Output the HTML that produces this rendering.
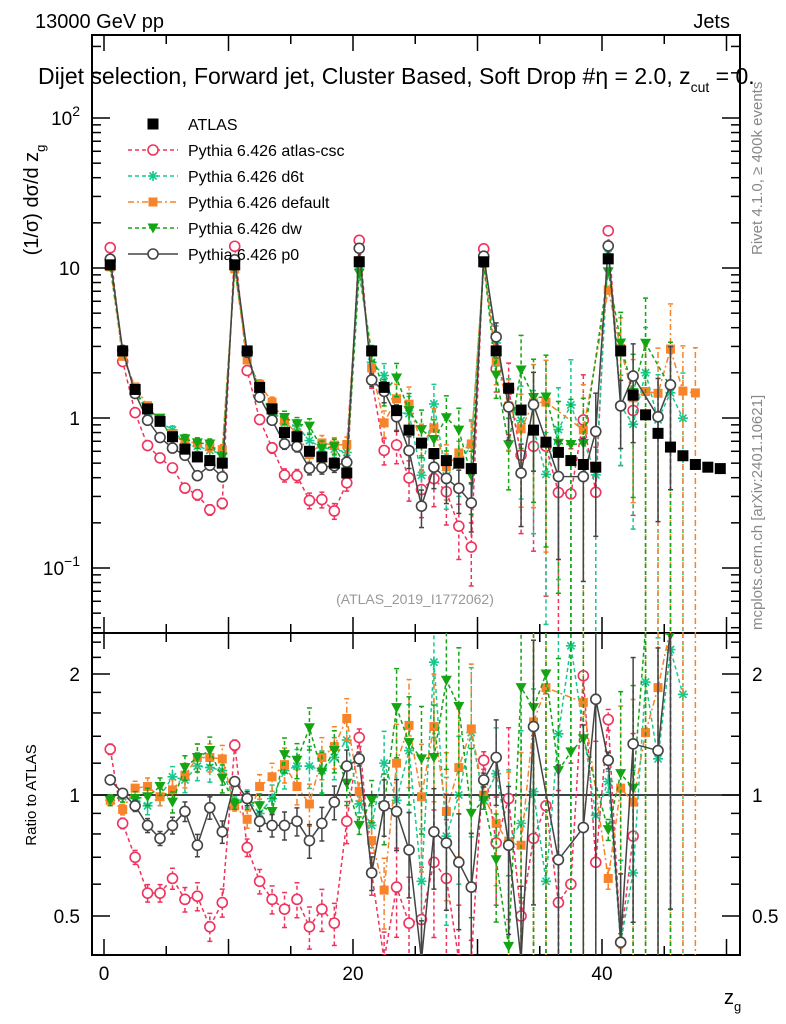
<!DOCTYPE html>
<html><head><meta charset="utf-8">
<style>
html,body{margin:0;padding:0;background:#fff;width:786px;height:1024px;overflow:hidden;}
svg{display:block;font-family:"Liberation Sans",sans-serif;}
</style></head>
<body>
<svg id="chart" width="786" height="1024" viewBox="0 0 786 1024">
<defs>
<clipPath id="clipMain"><rect x="92" y="35" width="648" height="598"/></clipPath>
<clipPath id="clipRatio"><rect x="92" y="633" width="648" height="322"/></clipPath>
</defs>
<text x="35" y="28" font-size="20">13000 GeV pp</text>
<text x="730" y="28" font-size="20" text-anchor="end">Jets</text>
<text x="38" y="84" font-size="23">Dijet selection, Forward jet, Cluster Based, Soft Drop #η = 2.0, z<tspan font-size="14" dy="8">cut</tspan><tspan dy="-8"> = 0.</tspan></text>
<text transform="translate(762,255) rotate(-90)" font-size="15" fill="#888">Rivet 4.1.0, ≥ 400k events</text>
<text transform="translate(762,630) rotate(-90)" font-size="15" fill="#888">mcplots.cern.ch [arXiv:2401.10621]</text>
<text transform="translate(38,200) rotate(-90)" font-size="20" text-anchor="middle">(1/σ) dσ/d z<tspan font-size="13" dy="7">g</tspan></text>
<text transform="translate(36,795) rotate(-90)" font-size="15" text-anchor="middle">Ratio to ATLAS</text>
<text x="415" y="604" font-size="14" fill="#999" text-anchor="middle">(ATLAS_2019_I1772062)</text>
<text x="724" y="1004" font-size="20">z<tspan font-size="13" dy="7">g</tspan></text>
<g id="axes"></g>
<g id="series-main" clip-path="url(#clipMain)"></g>
<g id="series-ratio" clip-path="url(#clipRatio)"></g>
<g id="legend"></g>
</svg>
<script>
const bins = [0.5,1.5,2.5,3.5,4.5,5.5,6.5,7.5,8.5,9.5,10.5,11.5,12.5,13.5,14.5,15.5,16.5,17.5,18.5,19.5,20.5,21.5,22.5,23.5,24.5,25.5,26.5,27.5,28.5,29.5,30.5,31.5,32.5,33.5,34.5,35.5,36.5,37.5,38.5,39.5,40.5,41.5,42.5,43.5,44.5,45.5,46.5,47.5,48.5,49.5];
const atlasValues = [10.5,2.8,1.55,1.15,0.95,0.75,0.62,0.55,0.52,0.5, 10.5,2.8,1.6,1.15,0.8,0.75,0.6,0.55,0.5,0.43, 11,2.8,1.6,1.12,0.83,0.68,0.58,0.52,0.5,0.46, 11,2.8,1.58,1.13,0.83,0.69,0.59,0.52,0.49,0.47, 11.5,2.8,1.42,1.05,0.79,0.64,0.56,0.49,0.47,0.46];
const ratioCsc = [1.30,0.85,0.70,0.57,0.57,0.62,0.55,0.56,0.47,0.54, 1.33,0.74,0.61,0.55,0.52,0.55,0.47,0.52,0.48,0.86, 1.39,0.64,0.38,0.59,0.48,0.49,0.68,0.62,0.38,0.30, 1.22,0.76,0.98,0.50,0.78,0.94,0.54,0.60,1.98,0.68, 1.54,0.43,0.79,null,null,null,null,null,null,null];
const ratioD6t = [0.97,0.99,0.98,0.94,0.99,1.11,1.09,1.18,1.17,1.15, 0.96,0.98,0.90,0.98,1.15,1.18,1.18,1.15,1.24,1.37, 0.95,0.84,1.20,0.97,1.29,0.61,2.14,0.79,1.00,1.43, 0.97,1.13,0.77,0.85,1.02,0.61,1.42,2.35,null,0.89, 1.08,0.43,0.64,1.91,1.23,2.3,1.78,null,null,null];
const ratioDefault = [0.97,0.92,1.04,1.05,0.99,1.03,1.12,1.24,1.24,1.23, 0.94,0.87,1.05,1.11,1.19,1.05,0.95,1.24,1.32,1.55, 1.02,0.77,0.58,1.20,1.49,0.99,1.48,0.91,1.17,1.46, 1.00,0.85,0.76,0.75,1.52,1.85,null,null,1.70,null, 0.62,1.04,0.96,1.43,1.85,4.5,2.7,3.0,null,null];
const ratioDw = [0.97,0.99,0.98,0.99,1.05,0.96,1.17,1.24,1.29,1.10, 0.95,0.97,0.94,0.91,1.26,1.22,1.47,1.14,1.29,1.07, 0.84,0.97,0.94,1.65,1.35,1.23,1.24,1.93,1.66,0.90, 0.97,0.69,0.42,1.85,1.65,2.00,1.15,1.28,1.38,null, 0.82,1.13,1.04,3.0,null,2.5,null,null,null,null];
const ratioP0 = [1.09,1.01,0.94,0.84,0.78,0.84,0.91,0.75,0.93,0.81, 1.08,0.98,0.86,0.84,0.84,0.86,0.77,0.85,0.96,1.18, 1.23,0.64,0.94,0.91,0.73,0.38,0.81,0.76,0.68,0.59, 1.09,1.24,0.75,0.38,1.48,null,0.69,null,0.83,1.73, 1.22,0.43,1.34,null,1.29,2.6,null,null,null,null];
const mcRelErr = [0.03,0.03,0.04,0.05,0.05,0.06,0.07,0.08,0.08,0.08, 0.03,0.05,0.07,0.08,0.1,0.1,0.12,0.12,0.12,0.12, 0.05,0.12,0.2,0.25,0.3,0.35,0.35,0.4,0.4,0.45, 0.05,0.3,0.5,0.7,0.8,0.9,0.9,1,1,1, 0.06,0.6,0.8,1,1,1,1,1,1,1];
const xTicks = [0,20,40];
const mainTickLabels = [["10","2"],["10",""],["1",""],["10","−1"]];
const mainTickValues = [100,10,1,0.1];
const ratioTickValues = [2,1,0.5];
const ratioTickLabels = ["2","1","0.5"];

const NS="http://www.w3.org/2000/svg";
const cl=(y,a,b)=>Math.max(a,Math.min(b,y));
const X=v=>104+12.45*v;
const Y=v=>cl(418-150*Math.log10(v),30,638);
const R=r=>cl(795-121*Math.log2(r),628,960);
function mk(tag,attrs,parent){const e=document.createElementNS(NS,tag);for(const k in attrs)e.setAttribute(k,attrs[k]);parent.appendChild(e);return e;}
const axes=document.getElementById('axes');
const gm=document.getElementById('series-main');
const gr=document.getElementById('series-ratio');
const lg=document.getElementById('legend');

let f1=mk('rect',{x:92,y:35,width:648,height:598,fill:'none',stroke:'#000','stroke-width':2},axes);


let f2=mk('rect',{x:92,y:633,width:648,height:322,fill:'none',stroke:'#000','stroke-width':2},axes);


for(let v=0;v<=50;v+=5){
  const len=v%10===0?16:9;
  [[35,1],[633,-1],[633,1],[955,-1]].forEach(([y0,d])=>{
    mk('line',{x1:X(v),x2:X(v),y1:y0,y2:y0+d*len,stroke:'#000','stroke-width':1.5},axes);
  });
}
xTicks.forEach(v=>{
  const t=mk('text',{x:X(v),y:980,'font-size':19,'text-anchor':'middle'},axes);
  t.textContent=v;
  
  
});
for(let e=-2;e<=2;e++){for(let m=1;m<10;m++){const v=m*Math.pow(10,e);const y=418-150*Math.log10(v);if(y<35||y>633)continue;
  const len=m===1?18:9;
  mk('line',{x1:92,x2:92+len,y1:y,y2:y,stroke:'#000','stroke-width':1.5},axes);
  mk('line',{x1:740,x2:740-len,y1:y,y2:y,stroke:'#000','stroke-width':1.5},axes);}}
mainTickValues.forEach((v,i)=>{
  const t=mk('text',{x:80,y:Y(v)+7,'font-size':19,'text-anchor':'end'},axes);
  t.textContent=mainTickLabels[i][0];
  if(mainTickLabels[i][1]){const s=mk('tspan',{dy:-9,'font-size':14},t);s.textContent=mainTickLabels[i][1];}
  
  
});
[0.5,0.6,0.7,0.8,0.9,1,1.2,1.4,1.6,1.8,2,2.2,2.4].forEach(r=>{
  const y=R(r);const major=(r===0.5||r===1||r===2);const len=major?18:9;
  mk('line',{x1:92,x2:92+len,y1:y,y2:y,stroke:'#000','stroke-width':1.5},axes);
  mk('line',{x1:740,x2:740-len,y1:y,y2:y,stroke:'#000','stroke-width':1.5},axes);
});
ratioTickValues.forEach((r,i)=>{
  const t=mk('text',{x:80,y:R(r)+7,'font-size':19,'text-anchor':'end'},axes);
  t.textContent=ratioTickLabels[i];
  
  
  const t2=mk('text',{x:752,y:R(r)+7,'font-size':19},axes);
  t2.textContent=ratioTickLabels[i];
  
  
});
let one=mk('line',{x1:92,x2:740,y1:R(1),y2:R(1),stroke:'#000','stroke-width':1.5},gr);



function marker(g,type,x,y,color){
  let e;
  if(type==='circle'){e=mk('circle',{cx:x,cy:y,r:5,fill:'#fff',stroke:color,'stroke-width':1.6},g);}
  else if(type==='square'){e=mk('rect',{x:x-4.5,y:y-4.5,width:9,height:9,fill:color},g);}
  else if(type==='bigsquare'){e=mk('rect',{x:x-5.5,y:y-5.5,width:11,height:11,fill:color},g);}
  else if(type==='tri'){e=mk('path',{d:`M${x-5.5},${y-4.5}L${x+5.5},${y-4.5}L${x},${y+5.5}Z`,fill:color},g);}
  else if(type==='star'){e=mk('path',{d:`M${x-5},${y}L${x+5},${y}M${x},${y-5}L${x},${y+5}M${x-3.6},${y-3.6}L${x+3.6},${y+3.6}M${x-3.6},${y+3.6}L${x+3.6},${y-3.6}`,stroke:color,'stroke-width':1.6,fill:'none'},g);}
  return e;
}
const series=[
  {name:'Pythia 6.426 atlas-csc',key:'atlas-csc',ratios:ratioCsc,color:'#f0325c',dash:'4,3',mark:'circle'},
  {name:'Pythia 6.426 d6t',key:'d6t',ratios:ratioD6t,color:'#17c88e',dash:'4,3',mark:'star'},
  {name:'Pythia 6.426 default',key:'default',ratios:ratioDefault,color:'#f7832a',dash:'6,3,2,3',mark:'square'},
  {name:'Pythia 6.426 dw',key:'dw',ratios:ratioDw,color:'#13a513',dash:'4,3',mark:'tri'},
  {name:'Pythia 6.426 p0',key:'p0',ratios:ratioP0,color:'#444',dash:'',mark:'circle'}
];
series.forEach(s=>{
  const gM=mk('g',{},gm);
  
  
  const gR=mk('g',{},gr);
  
  
  let pm=[],pr=[];
  bins.forEach((b,i)=>{
    const r=s.ratios[i];if(r==null)return;
    const v=r*atlasValues[i];const err=mcRelErr[i]*(s.key==='p0'?0.8:1);
    const x=X(b);
    pm.push(`${x},${Y(v)}`);pr.push(`${x},${R(r)}`);
    const lo=Math.max(v*(1-err),1e-4),hi=v*(1+err);
    const rlo=Math.max(r*(1-err),1e-3),rhi=r*(1+err);
    [[gM,Y(lo),Y(hi)],[gR,R(rlo),R(rhi)]].forEach(([g,y1,y2])=>{
      mk('line',{x1:x,x2:x,y1:y1,y2:y2,stroke:s.color,'stroke-width':1.5,'stroke-dasharray':s.dash},g);
      mk('line',{x1:x-2.5,x2:x+2.5,y1:y1,y2:y1,stroke:s.color,'stroke-width':1.5},g);
      mk('line',{x1:x-2.5,x2:x+2.5,y1:y2,y2:y2,stroke:s.color,'stroke-width':1.5},g);
    });
  });
  mk('polyline',{points:pm.join(' '),fill:'none',stroke:s.color,'stroke-width':1.5,'stroke-dasharray':s.dash},gM);
  mk('polyline',{points:pr.join(' '),fill:'none',stroke:s.color,'stroke-width':1.5,'stroke-dasharray':s.dash},gR);
  bins.forEach((b,i)=>{
    const r=s.ratios[i];if(r==null)return;
    const m1=marker(gM,s.mark,X(b),Y(r*atlasValues[i]),s.color);
    
    
    const m2=marker(gR,s.mark,X(b),R(r),s.color);
    
    
  });
});
const gA=mk('g',{},gm);


bins.forEach((b,i)=>{
  const m=marker(gA,'bigsquare',X(b),Y(atlasValues[i]),'#000');
  
  
});
const legendItems=[{name:'ATLAS',mark:'bigsquare',color:'#000',dash:null}].concat(series);
legendItems.forEach((s,i)=>{
  const y=124+26*i;
  const g=mk('g',{},lg);
  
  
  if(s.dash!==null){mk('line',{x1:128,x2:178,y1:y,y2:y,stroke:s.color,'stroke-width':1.5,'stroke-dasharray':s.dash},g);}
  marker(g,s.mark,153,y,s.color);
  const t=mk('text',{x:188,y:y+6,'font-size':16},g);
  t.textContent=s.name;
});
</script>
</body></html>
